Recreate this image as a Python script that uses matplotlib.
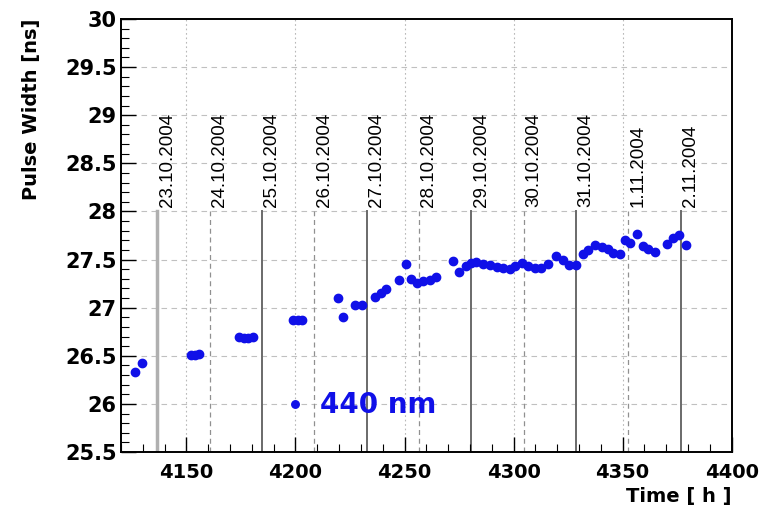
import matplotlib
matplotlib.use('Agg')
import matplotlib.pyplot as plt
from matplotlib.ticker import MultipleLocator, FuncFormatter

# pulse width of the 440 nm laser vs. running time
time_h = [4126.6, 4129.6,
          4152.0, 4153.8, 4155.6,
          4174.1, 4176.2, 4178.4, 4180.4,
          4199.0, 4201.0, 4203.0,
          4219.5, 4221.8, 4227.2, 4230.3, 4236.4, 4239.4, 4241.7, 4247.4,
          4250.5, 4252.8, 4255.8, 4258.5, 4261.6, 4264.4,
          4272.3, 4275.2, 4278.4, 4280.5, 4283.0, 4286.0, 4289.1, 4292.2,
          4295.2, 4298.3, 4300.6, 4303.7, 4306.7, 4309.8, 4312.8, 4315.9,
          4319.7, 4322.5, 4325.5, 4328.6, 4331.9, 4334.2, 4337.3, 4340.4,
          4343.4, 4345.7, 4348.8, 4351.0, 4353.4, 4356.7, 4359.5, 4361.8,
          4364.9, 4370.5, 4373.3, 4376.0, 4379.0]
width_ns = [26.33, 26.43,
            26.51, 26.51, 26.52,
            26.70, 26.68, 26.68, 26.70,
            26.87, 26.87, 26.87,
            27.10, 26.90, 27.03, 27.03, 27.11, 27.15, 27.19, 27.29,
            27.45, 27.30, 27.26, 27.28, 27.29, 27.32,
            27.49, 27.37, 27.43, 27.46, 27.47, 27.45, 27.44, 27.42,
            27.41, 27.40, 27.43, 27.46, 27.43, 27.41, 27.41, 27.45,
            27.54, 27.50, 27.44, 27.44, 27.56, 27.60, 27.65, 27.63,
            27.61, 27.57, 27.56, 27.70, 27.67, 27.77, 27.64, 27.61,
            27.58, 27.66, 27.72, 27.75, 27.65]

date_labels = ['23.10.2004', '24.10.2004', '25.10.2004', '26.10.2004',
               '27.10.2004', '28.10.2004', '29.10.2004', '30.10.2004',
               '31.10.2004', '1.11.2004', '2.11.2004']
date_hours = [4136.7, 4160.7, 4184.7, 4208.7, 4232.7, 4256.7,
              4280.7, 4304.7, 4328.7, 4352.7, 4376.7]

x_ticks = [4150, 4200, 4250, 4300, 4350, 4400]
y_ticks = [25.5, 26, 26.5, 27, 27.5, 28, 28.5, 29, 29.5, 30]

blue = '#1010e8'

fig = plt.figure(figsize=(7.68, 5.13), dpi=100)
ax = fig.add_axes([0.1576, 0.1189, 0.795, 0.8441])

ax.set_xlim(4120, 4400)
ax.set_ylim(25.5, 30)

# grid
for y in y_ticks[1:-1]:
    ax.axhline(y, color='#c0c0c0', lw=0.8, ls=(0, (5, 4)), zorder=0)
for x in x_ticks[:-1]:
    ax.axvline(x, color='#b8b8b8', lw=0.8, ls=(0, (1.5, 2.5)), zorder=0)

# day markers
for i, (hr, lab) in enumerate(zip(date_hours, date_labels)):
    if i == 0:
        ax.plot([hr, hr], [25.5, 28], color='#b0b0b0', lw=2.5, zorder=1)
    elif i % 2 == 0:
        ax.plot([hr, hr], [25.5, 28], color='#6a6a6a', lw=1.4, zorder=1)
    else:
        ax.plot([hr, hr], [25.5, 28], color='#909090', lw=0.9,
                ls=(0, (4, 3)), zorder=1)
    ax.text(hr + 0.6, 28.05, lab, rotation=90, ha='left', va='bottom',
            fontsize=13.5, family='Liberation Sans', color='black')

ax.plot(time_h, width_ns, 'o', color=blue, ms=6, mec=blue,
        label='440 nm', zorder=3)

leg = ax.legend(loc='center left', bbox_to_anchor=(0.267, 0.108),
                frameon=False, handlelength=0.8, handletextpad=0.5,
                borderpad=0, borderaxespad=0, markerscale=0.9,
                prop={'size': 20, 'weight': 'bold'})
for t in leg.get_texts():
    t.set_color(blue)

ax.set_xticks(x_ticks)
ax.set_yticks(y_ticks)
ax.xaxis.set_minor_locator(MultipleLocator(10))
ax.yaxis.set_minor_locator(MultipleLocator(0.1))
ax.yaxis.set_major_formatter(FuncFormatter(lambda v, p: '%g' % v))
ax.tick_params(which='both', direction='in', top=False, right=False)
ax.tick_params(which='major', length=11, width=1)
ax.tick_params(which='minor', length=6, width=0.8)
ax.tick_params(axis='x', pad=8)
ax.tick_params(axis='y', pad=3)
for lbl in ax.get_xticklabels():
    lbl.set_fontsize(14)
    lbl.set_fontweight('bold')
for lbl in ax.get_yticklabels():
    lbl.set_fontsize(15)
    lbl.set_fontweight('bold')

for s in ax.spines.values():
    s.set_linewidth(1.4)

ax.set_ylabel('Pulse Width [ns]', fontsize=14, fontweight='bold', loc='top')
ax.yaxis.set_label_coords(-0.131, 1.0)
ax.set_xlabel('Time [ h ]', fontsize=14, fontweight='bold', loc='right')
ax.xaxis.set_label_coords(1.0, -0.08)

fig.savefig('out.png', dpi=100)
